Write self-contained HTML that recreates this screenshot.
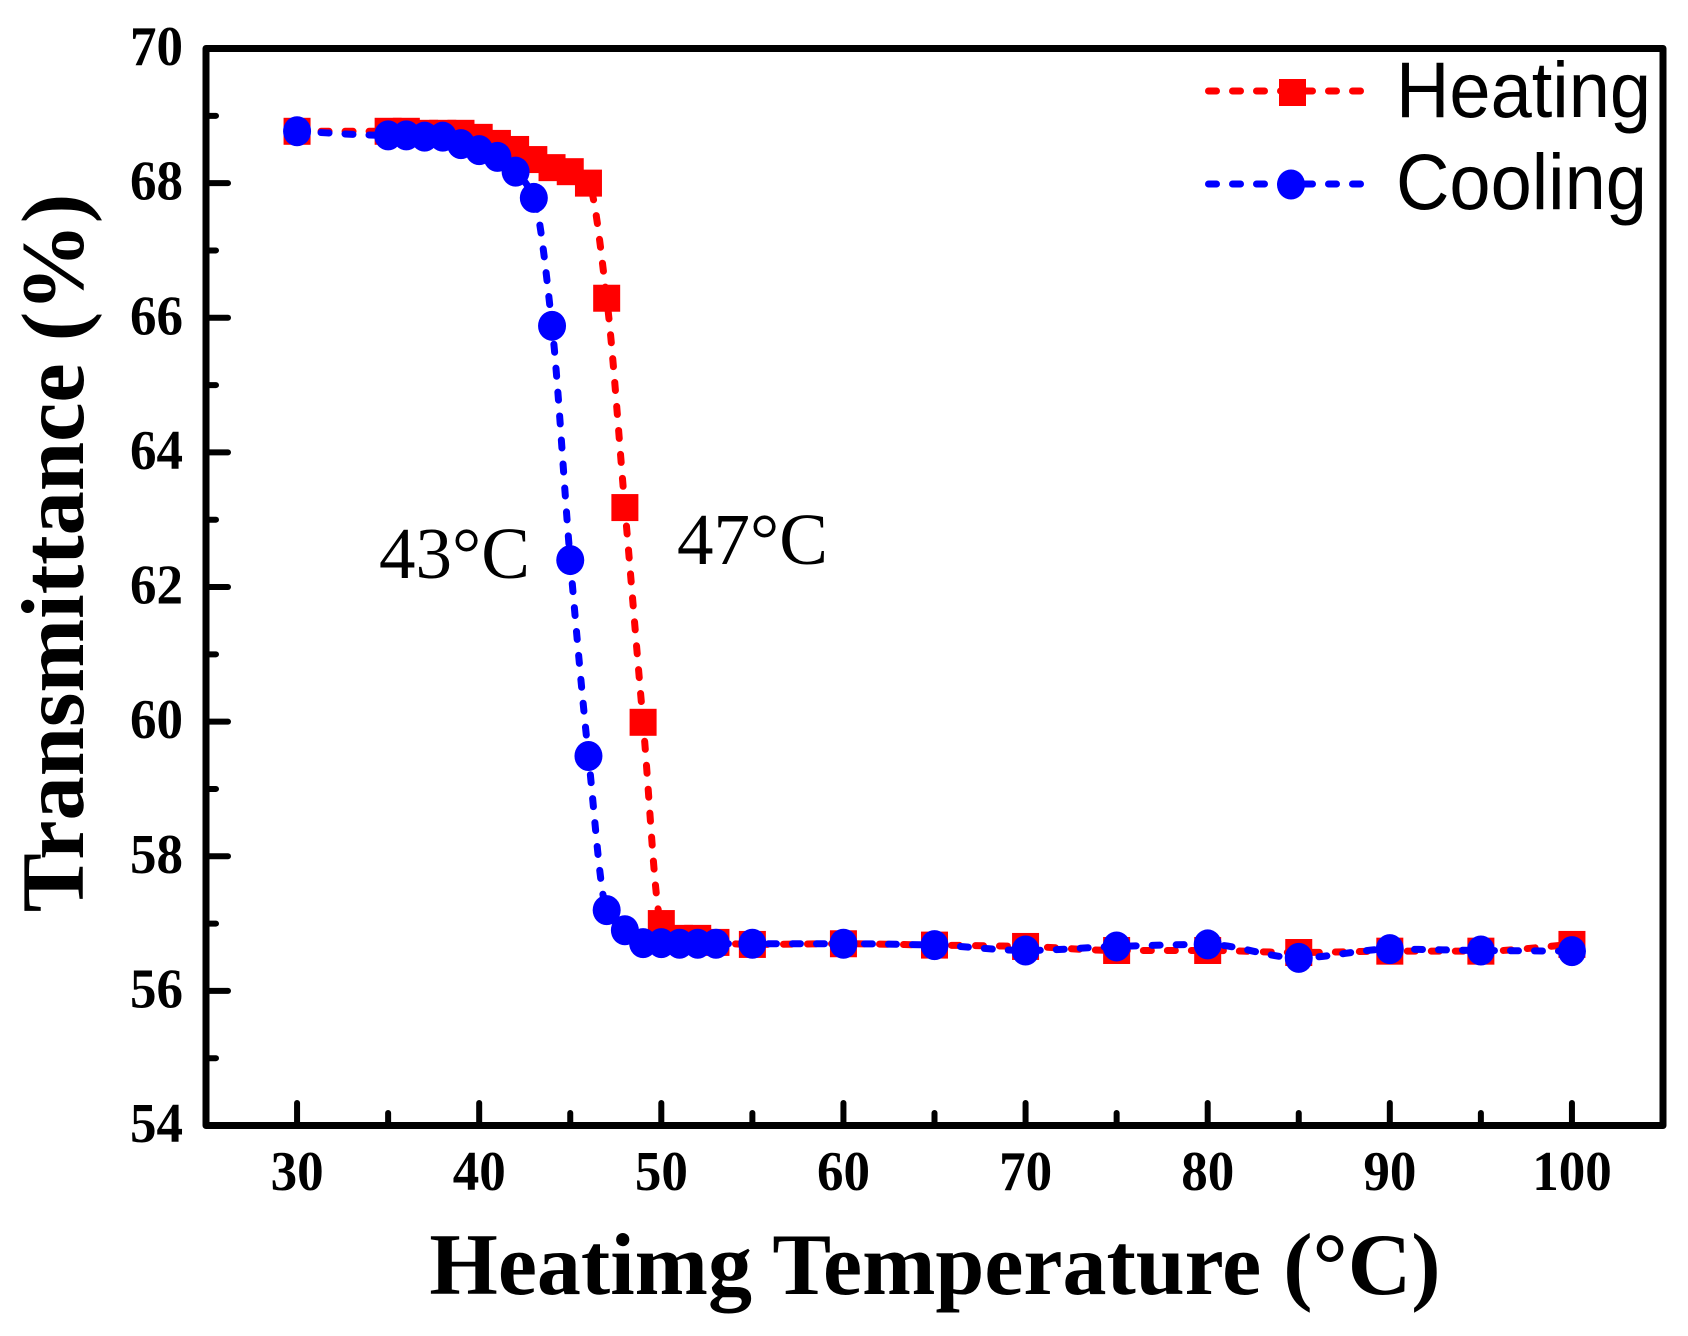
<!DOCTYPE html>
<html lang="en">
<head>
<meta charset="utf-8">
<title>Transmittance vs Heating Temperature</title>
<style>
html,body{margin:0;padding:0;background:#fff;width:1688px;height:1336px;overflow:hidden}
svg{display:block}
.serif{font-family:"Liberation Serif",serif}
.sans{font-family:"Liberation Sans",sans-serif}
.tick{font-family:"Liberation Serif",serif;font-weight:700;font-size:53px;fill:#000}
</style>
</head>
<body>
<svg id="chart" xmlns="http://www.w3.org/2000/svg" width="1688" height="1336" viewBox="0 0 1688 1336">
  <rect x="0" y="0" width="1688" height="1336" fill="#fff"/>
  <g id="series"></g>
  <g id="ticks"></g>
  <rect id="frame" fill="none" stroke="#000" stroke-width="7" stroke-linejoin="round"/>
  <g id="tick-labels"></g>

  <text class="serif" x="935" y="1294" font-size="88" font-weight="700" text-anchor="middle">Heatimg Temperature (°C)</text>
  <text class="serif" transform="translate(83,553) rotate(-90)" font-size="88.5" font-weight="700" text-anchor="middle">Transmittance (%)</text>

  <text class="serif" x="379" y="578" font-size="73">43°C</text>
  <text class="serif" x="677" y="564" font-size="73">47°C</text>

  <g>
    <line x1="1208.5" x2="1361.5" y1="91" y2="91" stroke="#f00" stroke-width="7" stroke-linecap="round" stroke-dasharray="8 16"/>
    <rect x="1279" y="79" width="27" height="27" fill="#f00"/>
    <text class="sans" transform="translate(1396,117) scale(1,1.07)" font-size="74">Heating</text>
    <line x1="1208.5" x2="1361.5" y1="184" y2="184" stroke="#00f" stroke-width="7" stroke-linecap="round" stroke-dasharray="8 16"/>
    <ellipse cx="1291" cy="184.5" rx="14" ry="15" fill="#00f"/>
    <text class="sans" transform="translate(1396,209) scale(1,1.07)" font-size="74">Cooling</text>
  </g>
</svg>
<script>
const temperatures = [30,35,36,37,38,39,40,41,42,43,44,45,46,47,48,49,50,51,52,53,55,60,65,70,75,80,85,90,95,100];
const heatingValues = [68.77,68.77,68.77,68.74,68.74,68.74,68.68,68.59,68.5,68.35,68.23,68.17,68.0,66.29,63.18,59.99,57.0,56.78,56.78,56.72,56.69,56.7,56.68,56.66,56.6,56.6,56.57,56.59,56.59,56.69];
const coolingValues = [68.77,68.71,68.71,68.69,68.69,68.58,68.49,68.39,68.17,67.78,65.88,62.4,59.49,57.2,56.9,56.71,56.71,56.7,56.7,56.7,56.7,56.7,56.68,56.6,56.66,56.69,56.49,56.62,56.6,56.59];
const xMajorTicks = [30,40,50,60,70,80,90,100];
const xMinorTicks = [35,45,55,65,75,85,95];
const yMajorTicks = [54,56,58,60,62,64,66,68,70];
const yMinorTicks = [55,57,59,61,63,65,67,69];
const xDomain = [25,105];
const yDomain = [54,70];

const plot = {left:206, right:1663, top:48.5, bottom:1125.5};
const NS = 'http://www.w3.org/2000/svg';
const xScale = v => plot.left + (v - xDomain[0]) / (xDomain[1] - xDomain[0]) * (plot.right - plot.left);
const yScale = v => plot.bottom - (v - yDomain[0]) / (yDomain[1] - yDomain[0]) * (plot.bottom - plot.top);

function make(parent, tag, attrs){
  const el = document.createElementNS(NS, tag);
  for (const k in attrs) el.setAttribute(k, attrs[k]);
  parent.appendChild(el);
  return el;
}

const frame = document.getElementById('frame');
frame.setAttribute('x', plot.left);
frame.setAttribute('y', plot.top);
frame.setAttribute('width', plot.right - plot.left);
frame.setAttribute('height', plot.bottom - plot.top);

const tickGroup = document.getElementById('ticks');
const labelGroup = document.getElementById('tick-labels');
const tickStyle = {stroke:'#000','stroke-width':6,'stroke-linecap':'round'};
const labelStretch = 1.06;

xMajorTicks.forEach(v => {
  const t = make(tickGroup,'line',Object.assign({x1:xScale(v),x2:xScale(v),y1:plot.bottom,y2:1103},tickStyle));
  
  
  const l = make(labelGroup,'text',{class:'tick',transform:'translate('+xScale(v)+',1190) scale(1,'+labelStretch+')','text-anchor':'middle'});
  
  
  l.textContent = v;
});
xMinorTicks.forEach(v => {
  const t = make(tickGroup,'line',Object.assign({x1:xScale(v),x2:xScale(v),y1:plot.bottom,y2:1113},tickStyle));
  
  
});
yMajorTicks.forEach(v => {
  const t = make(tickGroup,'line',Object.assign({x1:plot.left,x2:228,y1:yScale(v),y2:yScale(v)},tickStyle));
  
  
  const l = make(labelGroup,'text',{class:'tick',transform:'translate(183,'+(yScale(v)+16.5)+') scale(1,'+labelStretch+')','text-anchor':'end'});
  
  
  l.textContent = v;
});
yMinorTicks.forEach(v => {
  const t = make(tickGroup,'line',Object.assign({x1:plot.left,x2:216,y1:yScale(v),y2:yScale(v)},tickStyle));
  
  
});

/* monotone cubic curve through the points */
function curvePath(xs, ys){
  const n = xs.length, d = [], m = [];
  for (let i = 0; i < n - 1; i++) d.push((ys[i+1]-ys[i])/(xs[i+1]-xs[i]));
  for (let i = 0; i < n; i++){
    if (i === 0) m.push(d[0]);
    else if (i === n - 1) m.push(d[n-2]);
    else if (d[i-1] * d[i] <= 0) m.push(0);
    else m.push(2 * d[i-1] * d[i] / (d[i-1] + d[i]));
  }
  let p = 'M' + xs[0] + ' ' + ys[0];
  for (let i = 0; i < n - 1; i++){
    const h = (xs[i+1]-xs[i]) / 3;
    p += ' C' + (xs[i]+h) + ' ' + (ys[i]+m[i]*h) + ' ' + (xs[i+1]-h) + ' ' + (ys[i+1]-m[i+1]*h) + ' ' + xs[i+1] + ' ' + ys[i+1];
  }
  return p;
}

const seriesGroup = document.getElementById('series');
const xs = temperatures.map(xScale);

const heatingLine = make(seriesGroup,'path',{d:curvePath(xs,heatingValues.map(yScale)),fill:'none',stroke:'#f00','stroke-width':7,'stroke-linecap':'round','stroke-dasharray':'8 16'});


temperatures.forEach((t,i) => {
  const mark = make(seriesGroup,'rect',{x:xScale(t)-13.5,y:yScale(heatingValues[i])-13.5,width:27,height:27,fill:'#f00'});
  
  
});

const coolingLine = make(seriesGroup,'path',{d:curvePath(xs,coolingValues.map(yScale)),fill:'none',stroke:'#00f','stroke-width':7,'stroke-linecap':'round','stroke-dasharray':'8 16'});


temperatures.forEach((t,i) => {
  const mark = make(seriesGroup,'ellipse',{cx:xScale(t),cy:yScale(coolingValues[i]),rx:14,ry:15,fill:'#00f'});
  
  
});
</script>
</body>
</html>
